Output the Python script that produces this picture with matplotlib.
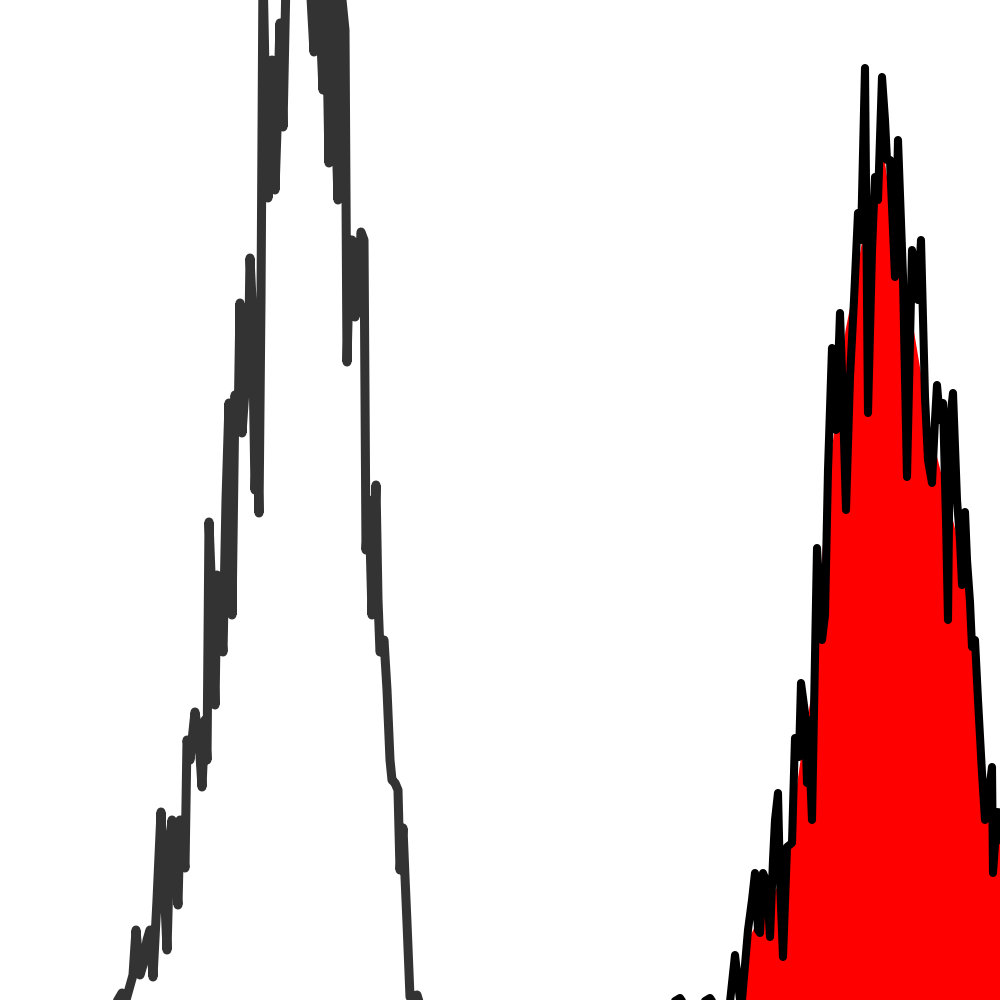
import numpy as np
from matplotlib import pyplot as plt

# channel positions and event counts (counts above 1000 run off the top)
ctrl_channel = [115, 122, 126, 133, 136, 140, 143, 147, 150, 153, 157, 161, 164, 167, 170, 172,
                175, 178, 180, 183, 185, 187, 190, 195, 199, 202, 205, 207, 209, 212, 215, 217,
                220, 223, 226, 229, 232, 235, 238, 240, 242, 245, 248, 250, 252, 255, 257, 259,
                261, 263, 266, 268, 272, 275, 277, 280, 283, 286, 290, 300, 308, 310, 314, 317,
                320, 323, 326, 329, 332, 335, 338, 341, 345, 347, 350, 352, 355, 358, 361, 364,
                366, 369, 372, 376, 378, 380, 384, 387, 390, 392, 395, 398, 400, 403, 405, 407,
                410, 417, 420]
ctrl_counts = [-5, 7, 0, 25, 70, 25, 35, 60, 70, 23, 100, 188, 120, 50, 160, 180,
               130, 95, 180, 150, 132, 260, 240, 288, 260, 213, 280, 240, 478, 400, 295, 425,
               390, 348, 500, 597, 385, 605, 570, 697, 567, 610, 610, 742, 700, 510, 570, 487,
               700, 1030, 880, 802, 940, 810, 870, 977, 873, 1020, 1080, 1120, 1060, 1020, 948, 1010,
               980, 910, 1010, 837, 1030, 900, 800, 1010, 970, 638, 760, 760, 683, 700, 768, 760,
               450, 500, 385, 515, 400, 348, 360, 310, 240, 220, 217, 210, 130, 172, 123, 77,
               3, 5, -5]

stained_channel = [670, 680, 684, 700, 710, 714, 730, 735, 740, 742, 748, 752, 755, 758, 760, 763,
                   767, 770, 773, 775, 778, 780, 783, 787, 792, 795, 799, 801, 805, 807, 808, 812,
                   817, 820, 822, 825, 828, 832, 836, 840, 843, 846, 850, 854, 858, 861, 865, 868,
                   872, 875, 878, 882, 885, 887, 890, 893, 895, 898, 903, 907, 912, 915, 918, 921,
                   925, 928, 932, 935, 937, 940, 943, 946, 948, 950, 953, 957, 960, 962, 965, 967,
                   970, 972, 975, 978, 982, 985, 988, 992, 993, 996, 998, 1002]
stained_counts = [-4, 2, -4, -4, 2, -4, -2, 45, 0, 0, 70, 100, 127, 70, 67, 127,
                  117, 63, 140, 180, 207, 120, 43, 153, 157, 262, 243, 317, 287, 217, 280, 180,
                  452, 400, 360, 385, 530, 652, 570, 687, 597, 490, 623, 700, 787, 760, 932, 587,
                  750, 823, 800, 923, 880, 840, 840, 770, 723, 860, 723, 523, 750, 733, 700, 760,
                  603, 540, 517, 580, 615, 580, 597, 480, 380, 580, 607, 500, 460, 415, 488, 440,
                  398, 353, 360, 300, 227, 180, 200, 233, 127, 170, 188, 150]

# smoother envelope used for the red fill
fill_channel = [738, 745, 750, 760, 770, 780, 790, 800, 810, 818, 825, 835, 845, 855, 865, 875,
                882, 890, 900, 910, 920, 930, 940, 950, 960, 970, 980, 990, 1002]
fill_counts = [0, 30, 65, 85, 100, 120, 170, 240, 300, 380, 500, 580, 670, 720, 780, 820,
               855, 800, 740, 690, 630, 570, 530, 490, 450, 390, 260, 180, 150]


fig = plt.figure(figsize=(10, 10), dpi=100)
ax = fig.add_axes([0, 0, 1, 1])

ax.fill_between(fill_channel, fill_counts, -20, color='#ff0000', lw=0)
ax.plot(stained_channel, stained_counts, color='black', lw=5.8,
        solid_joinstyle='round', solid_capstyle='round')
ax.plot(ctrl_channel, ctrl_counts, color='#333333', lw=6.5,
        solid_joinstyle='round', solid_capstyle='round')

ax.set_xlim(0, 1000)
ax.set_ylim(0, 1000)
ax.axis('off')

fig.savefig('out.png', dpi=100)
